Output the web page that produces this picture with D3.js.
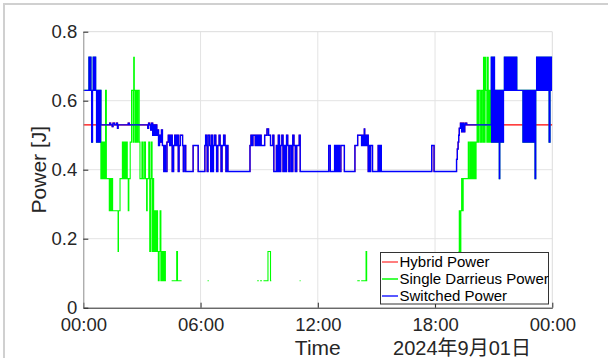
<!DOCTYPE html>
<meta charset="utf-8">
<title>Power</title>
<style>
html, body {
    margin: 0;
    background: #fff;
}
svg {
    display: block;
    font-family: "Liberation Sans", Arial, sans-serif;
}
</style>
<body>
<script src="https://cdn.jsdelivr.net/npm/d3@7"></script>
<script>
// ---- data (hours since 00:00, value) : step series ----
var seriesNames = ["Hybrid Power", "Single Darrieus Power", "Switched Power"],
    seriesColors = ["#ff0000", "#00ff00", "#0000ff"],
    legendColors = ["#ff7070", "#30ff30", "#4848ff"];

var xTickHours = [0, 6, 12, 18, 24],
    xTickLabels = ["00:00", "06:00", "12:00", "18:00", "00:00"],
    yTicks = [0, 0.2, 0.4, 0.6, 0.8],
    yTickLabels = ["0", "0.2", "0.4", "0.6", "0.8"],
    dateLabel = "2024年9月01日";

// shared by single and switched before the hybrid takes over
var earlySteps = [
    [0.00,.63],[0.29,.726],[0.33,.63],[0.36,.726],[0.39,.63],[0.43,.48],[0.47,.63],
    [0.51,.726],[0.56,.63],[0.60,.726],[0.63,.63],[0.68,.48],[0.72,.63],[0.76,.48],
    [0.80,.63],[0.84,.48],[0.88,.63]
];

// hybrid power from 0.9 h on (switched follows it here)
var hybridSteps = [
    [0.90,.53],[1.35,.535],[1.40,.53],[1.48,.525],[1.52,.535],[1.60,.53],[1.70,.535],
    [1.75,.52],[1.78,.53],[2.30,.535],[2.35,.53],[3.30,.52],[3.34,.535],[3.40,.53],
    [3.45,.515],[3.50,.535],[3.55,.50],[3.60,.53],[3.65,.50],[3.70,.53],[3.76,.50],
    [3.80,.515],[3.85,.47],[3.90,.50],[3.95,.48],[4.00,.515],[4.05,.47],[4.12,.395],
    [4.16,.47],[4.20,.395],[4.28,.48],[4.35,.50],[4.42,.47],[4.48,.50],[4.55,.395],
    [4.62,.47],[4.68,.50],[4.74,.47],[4.80,.50],[4.86,.395],[4.90,.47],[4.96,.50],
    [5.08,.47],[5.12,.395],[5.16,.47],[5.24,.395],[5.62,.47],[5.88,.395],
    [6.22,.47],[6.26,.50],[6.30,.47],[6.34,.395],[6.38,.50],[6.46,.47],[6.52,.395],
    [6.55,.50],[6.62,.395],[6.66,.47],[6.72,.50],[6.78,.47],[6.82,.395],[6.88,.47],
    [6.95,.50],[7.00,.47],[7.05,.395],[7.10,.47],[7.18,.50],[7.25,.47],[7.30,.395],
    [7.34,.47],[7.40,.395],
    [8.53,.47],[8.58,.50],[8.64,.47],[8.68,.50],[8.80,.47],[8.84,.50],[8.90,.47],
    [8.95,.50],[9.00,.47],[9.05,.50],[9.10,.47],[9.28,.50],[9.40,.518],[9.48,.50],
    [9.58,.47],[9.70,.50],[9.75,.395],[9.88,.47],[9.92,.395],[9.98,.50],[10.04,.395],
    [10.10,.47],[10.16,.50],[10.22,.395],[10.28,.47],[10.34,.395],[10.40,.50],
    [10.46,.47],[10.52,.395],[10.58,.47],[10.66,.395],[10.72,.50],[10.78,.47],
    [10.85,.395],[10.92,.47],[11.05,.50],[11.10,.395],
    [12.56,.47],[12.64,.395],[12.86,.47],[12.90,.395],[12.94,.47],[12.98,.395],
    [13.05,.47],[13.10,.395],[13.18,.47],[13.36,.395],[13.90,.47],[14.04,.50],
    [14.24,.47],[14.26,.50],[14.28,.47],[14.30,.50],[14.32,.47],[14.34,.50],[14.36,.47],
    [14.38,.518],[14.40,.50],[14.42,.47],[14.44,.50],[14.46,.47],[14.48,.50],[14.50,.47],
    [14.52,.50],[14.58,.395],[14.62,.47],[14.66,.395],[14.70,.47],[14.80,.395],
    [15.09,.47],[15.15,.395],[15.20,.47],[15.25,.395],
    [17.83,.47],[17.95,.395],
    [19.10,.43],[19.14,.46],[19.18,.48],[19.21,.50],[19.24,.52],[19.30,.535],[19.36,.51],
    [19.42,.535],[19.48,.51],[19.52,.53],[19.56,.535],[19.62,.53]
];

// single darrieus between the two windy spells (null = no output)
var singleSteps = [
    [0.90,.374],[0.95,.48],[1.00,.374],[1.05,.48],[1.10,.374],[1.14,.63],[1.18,.374],
    [1.33,.281],[1.37,.374],[1.41,.281],[1.45,.374],[1.50,.281],[1.78,.163],[1.80,.281],
    [1.88,.374],[2.00,.48],[2.05,.374],[2.10,.48],[2.15,.374],[2.20,.48],[2.25,.374],
    [2.30,.281],[2.33,.374],[2.40,.48],[2.47,.63],[2.55,.48],[2.58,.726],[2.61,.63],
    [2.65,.48],[2.70,.63],[2.75,.48],[2.80,.63],[2.86,.48],[2.90,.374],[3.00,.48],
    [3.05,.374],[3.12,.48],[3.18,.374],[3.24,.281],[3.27,.374],[3.35,.48],[3.40,.163],
    [3.44,.374],[3.48,.48],[3.52,.163],[3.56,.374],[3.60,.163],[3.65,.281],[3.70,.163],
    [3.75,.281],[3.80,.163],[3.84,.078],[3.88,.163],[3.93,.281],[3.97,.078],[4.01,.163],
    [4.05,.078],[4.10,.163],[4.14,.078],[4.18,.163],[4.20,.078],[4.23,.078],[4.23,null],
    [4.52,.078],[4.78,.163],[4.82,.078],[5.03,.078],[5.03,null],
    [6.36,.078],[6.42,.078],[6.42,null],
    [8.90,.078],[8.98,.078],[8.98,null],[9.05,.078],[9.14,.078],[9.14,null],
    [9.22,.078],[9.45,.163],[9.58,.078],[9.62,.078],[9.62,null],
    [11.07,.078],[11.12,.078],[11.12,null],
    [14.02,.078],[14.15,.078],[14.15,null],[14.22,.078],[14.47,.163],[14.50,.078],
    [14.53,.078],[14.53,null],
    [19.20,.163],[19.24,.281],[19.28,.163],[19.32,.281],[19.36,.374],[19.40,.281],
    [19.44,.374],[19.70,.48],[19.74,.374],[19.80,.48],[19.85,.374],[19.90,.48],
    [19.95,.374],[20.00,.48],[20.05,.374],[20.10,.48],[20.15,.63],[20.20,.48],
    [20.25,.63],[20.32,.48],[20.38,.63],[20.44,.48],[20.48,.726],[20.52,.48],
    [20.56,.726],[20.60,.63],[20.65,.48],[20.68,.726],[20.72,.48],[20.77,.63],
    [20.82,.48],[20.86,.63]
];

// shared by single and switched at the windy end of the day
var lateSteps = [
    [20.88,.726],[20.90,.48],[20.92,.726],[20.94,.63],[20.96,.48],[20.98,.726],[21.00,.48],
    [21.02,.726],[21.04,.63],[21.06,.48],[21.08,.63],[21.12,.48],[21.16,.63],[21.20,.48],
    [21.26,.63],[21.29,.374],[21.31,.63],[21.36,.48],[21.40,.63],[21.45,.48],[21.50,.63],
    [21.55,.726],[21.58,.63],[21.60,.726],[21.62,.63],[21.64,.726],[21.66,.63],[21.68,.726],
    [21.70,.63],[21.72,.726],[21.76,.63],[21.80,.726],[21.86,.63],[21.88,.726],[21.90,.63],
    [21.92,.726],[21.94,.63],[21.96,.726],[21.98,.63],[22.00,.726],[22.03,.63],[22.06,.726],
    [22.10,.63],[22.14,.726],[22.18,.63],
    [22.45,.63],[22.50,.48],[22.52,.63],[22.54,.48],[22.56,.63],[22.58,.48],[22.60,.63],
    [22.62,.48],[22.64,.63],[22.66,.48],[22.68,.63],[22.70,.48],[22.72,.63],[22.74,.48],
    [22.76,.63],[22.78,.48],[22.80,.63],[22.82,.48],[22.84,.63],[22.86,.48],[22.88,.63],
    [22.90,.48],[22.92,.63],[22.94,.48],[22.96,.63],[22.98,.48],[23.00,.63],[23.03,.48],
    [23.08,.63],[23.12,.374],[23.15,.63],[23.20,.726],[23.25,.63],[23.30,.726],[23.34,.63],
    [23.38,.726],[23.42,.63],[23.46,.726],[23.50,.63],[23.54,.726],[23.58,.63],[23.62,.726],
    [23.66,.63],[23.70,.726],[23.74,.63],[23.78,.726],[23.84,.48],[23.88,.726],[23.92,.63],
    [23.96,.726],[24.00,.726]
];

var hybrid = [[0,.53]].concat(hybridSteps, [[24,.53]]),
    single = earlySteps.concat(singleSteps, lateSteps),
    switched = earlySteps.concat(hybridSteps, lateSteps),
    series = [hybrid, single, switched],
    seriesWidths = [1.1, 1.1, 1.4];

// ---- chart ----
var width = 608,
    height = 358,
    plotLeft = 83.3,
    plotRight = 552.3,
    plotTop = 31.7,
    plotBottom = 307.7;

var day0 = new Date(2024, 8, 1);
function toDate(h) { return new Date(+day0 + h * 3600e3); }

var svg = d3.select("body").append("svg")
    .attr("width", width)
    .attr("height", height);

// window frame
svg.append("path")
    .attr("d", "M4,358V4H608")
    .attr("fill", "none")
    .attr("stroke", "#d0d0d0")
    .attr("stroke-width", 2);

var x = d3.scaleTime()
    .domain([day0, toDate(24)])
    .range([plotLeft, plotRight]);

var y = d3.scaleLinear()
    .domain([0, 0.8])
    .range([plotBottom, plotTop]);

// grid
svg.append("g").selectAll("line")
    .data(xTickHours.slice(1, -1))
    .enter().append("line")
    .attr("x1", function(d) { return x(toDate(d)); })
    .attr("x2", function(d) { return x(toDate(d)); })
    .attr("y1", plotTop).attr("y2", plotBottom)
    .attr("stroke", "#e3e3e3");

svg.append("g").selectAll("line")
    .data(yTicks.slice(1, -1))
    .enter().append("line")
    .attr("y1", function(d) { return y(d); })
    .attr("y2", function(d) { return y(d); })
    .attr("x1", plotLeft).attr("x2", plotRight)
    .attr("stroke", "#e3e3e3");

// box top/right
svg.append("path")
    .attr("d", "M" + plotLeft + "," + plotTop + "H" + plotRight + "V" + plotBottom)
    .attr("fill", "none")
    .attr("stroke", "#dcdcdc");

svg.append("clipPath").attr("id", "plot")
    .append("rect")
    .attr("x", plotLeft).attr("y", plotTop - 1)
    .attr("width", plotRight - plotLeft).attr("height", plotBottom - plotTop + 1);

var line = d3.line()
    .defined(function(d) { return d[1] != null; })
    .x(function(d) { return x(toDate(d[0])); })
    .y(function(d) { return y(d[1]); })
    .curve(d3.curveStepAfter);

svg.append("g")
    .attr("clip-path", "url(#plot)")
    .selectAll("path")
    .data(series)
    .enter().append("path")
    .attr("d", line)
    .attr("fill", "none")
    .attr("stroke", function(d, i) { return seriesColors[i]; })
    .attr("stroke-width", function(d, i) { return seriesWidths[i]; });

// axes
var xAxis = svg.append("g")
    .attr("transform", "translate(0," + plotBottom + ")")
    .call(d3.axisBottom(x)
        .tickValues(xTickHours.map(toDate))
        .tickFormat(function(d, i) { return xTickLabels[i]; })
        .tickSizeInner(-5)
        .tickSizeOuter(0)
        .tickPadding(10));

var yAxis = svg.append("g")
    .attr("transform", "translate(" + plotLeft + ",0)")
    .call(d3.axisLeft(y)
        .tickValues(yTicks)
        .tickFormat(function(d, i) { return yTickLabels[i]; })
        .tickSizeInner(-5)
        .tickSizeOuter(0)
        .tickPadding(6));

[xAxis, yAxis].forEach(function(g) {
    g.selectAll("text")
        .attr("fill", "#262626")
        .style("font-size", "18.5px")
        .style("font-family", "'Liberation Sans', Arial, sans-serif");
    g.selectAll(".tick line").attr("stroke", "#262626");
});
xAxis.select(".domain").attr("stroke", "#262626");
yAxis.select(".domain").attr("stroke", "#8c8c8c");

// labels
svg.append("text")
    .attr("transform", "translate(46," + (plotTop + plotBottom) / 2 + ") rotate(-90)")
    .attr("text-anchor", "middle")
    .attr("fill", "#262626")
    .style("font-size", "21px")
    .text("Power [J]");

svg.append("text")
    .attr("x", (plotLeft + plotRight) / 2)
    .attr("y", 355)
    .attr("text-anchor", "middle")
    .attr("fill", "#262626")
    .style("font-size", "21px")
    .text("Time");

svg.append("text")
    .attr("x", 462)
    .attr("y", 355)
    .attr("text-anchor", "middle")
    .attr("fill", "#262626")
    .style("font-size", "20px")
    .style("font-family", "'Liberation Sans', 'Noto Sans CJK JP', sans-serif")
    .text(dateLabel);

// legend
var legend = svg.append("g")
    .attr("transform", "translate(380.5,252.5)");

legend.append("rect")
    .attr("width", 168)
    .attr("height", 51.5)
    .attr("fill", "#fff")
    .attr("stroke", "#333")
    .attr("stroke-width", 1);

var item = legend.selectAll(".item")
    .data(seriesNames)
    .enter().append("g")
    .attr("transform", function(d, i) { return "translate(0," + (9.5 + i * 17) + ")"; });

item.append("rect")
    .attr("x", 1.5).attr("y", -0.9)
    .attr("width", 16).attr("height", 1.8)
    .attr("fill", function(d, i) { return legendColors[i]; });

item.append("text")
    .attr("x", 19)
    .attr("dy", "0.36em")
    .attr("fill", "#000")
    .style("font-size", "15px")
    .text(function(d) { return d; });
</script>
